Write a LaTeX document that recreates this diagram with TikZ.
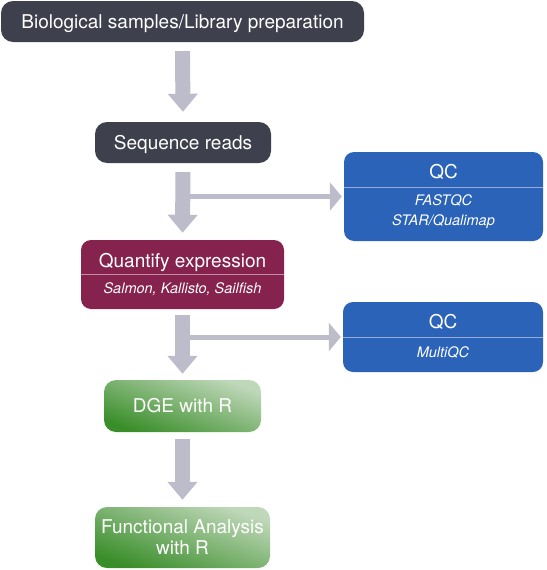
\documentclass[tikz,border=0pt]{standalone}
\usepackage{fontspec}
\setmainfont{TeX Gyre Heros}
\usetikzlibrary{arrows.meta}
\definecolor{darkbox}{RGB}{62,65,77}
\definecolor{arrowgray}{RGB}{189,188,203}
\definecolor{qcblue}{RGB}{43,99,184}
\definecolor{qcline}{RGB}{150,172,214}
\definecolor{quantred}{RGB}{134,34,78}
\definecolor{quantline}{RGB}{196,140,166}
\definecolor{greentop}{RGB}{192,216,186}
\definecolor{greenmid}{RGB}{108,174,92}
\definecolor{greenbot}{RGB}{58,142,42}
\begin{document}
\begin{tikzpicture}[x=1pt, y=-1pt,
  box/.style={rounded corners=12pt, text=white, inner sep=0pt, align=center,
    font=\fontsize{19}{21}\selectfont},
  single/.style={text height=13.5pt, text depth=0pt},
  greenbox/.style={box, top color=greentop, middle color=greenmid, bottom color=greenbot, shading angle=-20},
  sub/.style={text=white, inner sep=0pt, align=center, font=\fontsize{14.5}{20}\selectfont\itshape},
  title/.style={text=white, inner sep=0pt, text height=13.5pt, text depth=0pt, font=\fontsize{19}{21}\selectfont},
  fat/.style={arrowgray, line width=15pt, -{Triangle[width=29pt,length=18pt]}},
  branch/.style={arrowgray, line width=5pt, -{Triangle[width=28pt,length=12pt]}, shorten >=2pt}]
\useasboundingbox (0,0) rectangle (546,570);
\node[box, single, fill=darkbox, minimum width=363pt, minimum height=41pt] (lib) at (182.5,21.5) {Biological samples/Library preparation};
\node[box, single, fill=darkbox, minimum width=176pt, minimum height=41pt] (seq) at (183,142.5) {Sequence reads};
\node[box, fill=quantred, rounded corners=10pt, minimum width=203pt, minimum height=69pt] (quant) at (182.5,274.5) {};
\node[title] (quantt) at (182.5,261) {Quantify expression};
\node[sub] (quants) at (182.5,289) {Salmon, Kallisto, Sailfish};
\draw[quantline] (quant.west |- 0,274) -- (quant.east |- 0,274);
\node[box, fill=qcblue, rounded corners=10pt, minimum width=199pt, minimum height=89pt] (qcA) at (443.5,196.5) {};
\node[title] (qcAt) at (443.5,172) {QC};
\node[sub] (qcAs) at (443.5,212) {FASTQC\\STAR/Qualimap};
\draw[qcline] (qcA.west |- 0,187) -- (qcA.east |- 0,187);
\node[box, fill=qcblue, rounded corners=10pt, minimum width=200pt, minimum height=70pt] (qcB) at (443,337) {};
\node[title] (qcBt) at (443,322) {QC};
\node[sub] (qcBs) at (443,352) {MultiQC};
\draw[qcline] (qcB.west |- 0,337) -- (qcB.east |- 0,337);
\node[greenbox, single, minimum width=157pt, minimum height=52pt] (dge) at (182.5,406) {DGE with R};
\node[greenbox, minimum width=175pt, minimum height=61pt] (func) at (182.5,537.5) {Functional Analysis\\with R};
\draw[fat, shorten <=9pt, shorten >=10pt] (lib.south) -- (seq.north);
\draw[fat, shorten <=9pt, shorten >=7pt] (seq.south) -- (quant.north);
\draw[fat, shorten <=6pt, shorten >=6pt] (quant.south) -- (dge.north);
\draw[fat, shorten <=7pt, shorten >=7pt] (dge.south) -- (func.north);
\draw[branch] ([xshift=7pt]seq.south |- qcA.west) -- (qcA.west);
\draw[branch] ([xshift=7pt]quant.south |- qcB.west) -- (qcB.west);
\end{tikzpicture}
\end{document}
